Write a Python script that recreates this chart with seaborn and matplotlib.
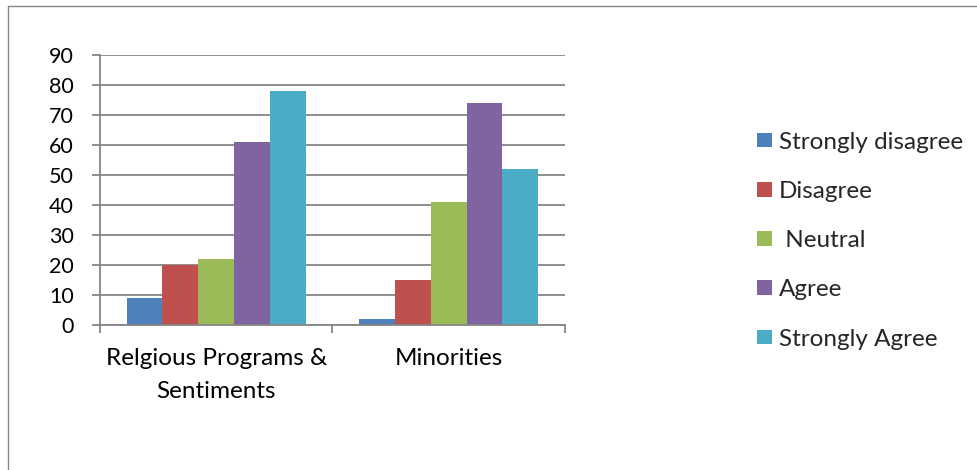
import matplotlib
matplotlib.use("Agg")
import matplotlib.pyplot as plt
from matplotlib.lines import Line2D
import seaborn as sns
import pandas as pd

categories = ["Relgious Programs &\nSentiments", "Minorities"]
responses = ["Strongly disagree", "Disagree", " Neutral", "Agree", "Strongly Agree"]
strongly_disagree = [9, 2]
disagree = [20, 15]
neutral = [22, 41]
agree = [61, 74]
strongly_agree = [78, 52]
colors = ["#4F81BD", "#C0504D", "#9BBB59", "#8064A2", "#4BACC6"]
y_ticks = [0, 10, 20, 30, 40, 50, 60, 70, 80, 90]

series = [strongly_disagree, disagree, neutral, agree, strongly_agree]
rows = []
for resp, vals in zip(responses, series):
    for cat, v in zip(categories, vals):
        rows.append({"category": cat, "response": resp, "value": v})
df = pd.DataFrame(rows)

sns.set_theme(style="white")
plt.rcParams["font.family"] = ["Lato", "DejaVu Sans"]
FS_TEXT = 17.5
FS_Y = 15.5

grid_color = "#868686"
fig = plt.figure(figsize=(9.77, 4.70), dpi=100)
ax = fig.add_axes([0.1023, 0.3085, 0.4760, 0.5745])

sns.barplot(data=df, x="category", y="value", hue="response",
            hue_order=responses, order=categories, palette=colors,
            saturation=1, width=0.77, gap=0, linewidth=0, ax=ax, legend=True)

ax.set_ylim(0, 90)
ax.set_xlim(-0.5, 1.5)
ax.set_yticks(y_ticks)
ax.set_yticklabels([str(t) for t in y_ticks])
ax.yaxis.grid(True, color=grid_color, linewidth=1.3)
ax.set_axisbelow(True)
ax.set_xlabel("")
ax.set_ylabel("")

for side in ["top", "right"]:
    ax.spines[side].set_visible(False)
for side in ["left", "bottom"]:
    ax.spines[side].set_color(grid_color)
    ax.spines[side].set_linewidth(1.3)

ax.tick_params(axis="y", which="major", left=True, length=6, width=1.3,
               color=grid_color, pad=13, labelsize=FS_Y, labelcolor="black")
ax.set_xticks([-0.5, 0.5, 1.5], minor=True)
ax.tick_params(axis="x", which="minor", bottom=True, length=6, width=1.3,
               color=grid_color)
ax.tick_params(axis="x", which="major", bottom=False, length=0, pad=16.5,
               labelsize=FS_TEXT, labelcolor="black")
for lbl in ax.get_xticklabels():
    lbl.set_linespacing(1.7)

handles, labels = ax.get_legend_handles_labels()
ax.legend(handles, labels, loc="center left",
          bbox_to_anchor=(0.7645, 0.488), bbox_transform=fig.transFigure,
          frameon=False, fontsize=FS_TEXT, handlelength=0.62, handleheight=0.55,
          handletextpad=0.3, labelspacing=1.16, borderaxespad=0)

# outer chart frame
fig.add_artist(Line2D([7.5 / 977, 7.5 / 977], [0, 1 - 5.5 / 470],
                      transform=fig.transFigure, color=grid_color, linewidth=1.0))
fig.add_artist(Line2D([7.5 / 977, 1], [1 - 5.5 / 470, 1 - 5.5 / 470],
                      transform=fig.transFigure, color=grid_color, linewidth=1.0))

fig.savefig("out.png", dpi=100)
